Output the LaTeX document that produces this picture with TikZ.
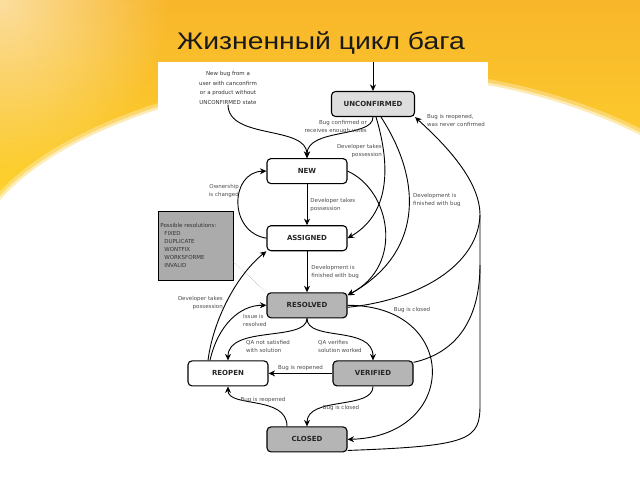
\documentclass[tikz,border=0pt]{standalone}
\usepackage{fontspec}
\setmainfont{DejaVu Sans}
\newfontfamily\titlefont{Liberation Sans}
\usetikzlibrary{positioning,arrows.meta,fadings}
\definecolor{slideorange}{HTML}{F8B62A}
\definecolor{slideyellow}{HTML}{FDD22E}
\definecolor{unconfgray}{HTML}{DEDEDE}
\definecolor{stategray}{HTML}{B5B5B5}
\definecolor{notegray}{HTML}{ABABAB}
\tikzfading[name=glow, inner color=transparent!0, outer color=transparent!100]

\begin{document}
\begin{tikzpicture}[
  x=1pt, y=-1pt,
  state/.style={draw, line width=1.1pt, rounded corners=4pt, minimum width=80pt, minimum height=25pt,
    inner sep=0pt, font=\fontsize{7}{8}\selectfont\bfseries, text=black!85},
  done/.style={state, fill=stategray},
  lbl/.style={font=\fontsize{5.5}{8}\selectfont, text=black!70, inner sep=0pt},
  arr/.style={-{Stealth[length=6.5pt,width=6pt]}, line width=0.9pt},
  link/.style={line width=0.9pt}
]
\useasboundingbox (0,0) rectangle (640,480);
\clip (0,0) rectangle (640,480);
\fill[white] (0,0) rectangle (640,480);
\shade[top color=slideorange, bottom color=slideyellow] (0,0) -- (640,0) -- (640,135)
  .. controls (580,105) and (500,80) .. (400,75) .. controls (250,70) and (70,120) .. (0,200) -- cycle;
\draw[white, line width=12pt, opacity=0.3] (640,135) .. controls (580,105) and (500,80) .. (400,75)
  .. controls (250,70) and (70,120) .. (0,200);
\draw[white, line width=5pt, opacity=0.5] (640,135) .. controls (580,105) and (500,80) .. (400,75)
  .. controls (250,70) and (70,120) .. (0,200);
\fill[white, path fading=glow, opacity=0.55] (0,0) circle (170);
\fill[white] (158,62) rectangle (488,480);

\node[font=\titlefont\fontsize{24}{28}\selectfont, text=black!90, anchor=base] (title) at (321,49)
  {\scalebox{1.18}[1]{Жизненный цикл бага}};

\node[state, fill=unconfgray, minimum width=83pt] (unconf) at (373,104) {UNCONFIRMED};
\node[state, below=41pt of unconf, xshift=-66pt] (new) {NEW};
\node[state, below=41pt of new] (assigned) {ASSIGNED};
\node[done, below=41pt of assigned] (resolved) {RESOLVED};
\node[state, below=42pt of resolved, xshift=-79pt] (reopen) {REOPEN};
\node[done, below=42pt of resolved, xshift=66pt] (verified) {VERIFIED};
\node[done, below=108pt of resolved] (closed) {CLOSED};
\node[draw, line width=0.8pt, fill=notegray, anchor=north west, minimum width=75pt, minimum height=69pt,
  text width=71pt, inner xsep=2pt, align=left, font=\fontsize{5.5}{8}\selectfont, text=black!80] (resol) at (158,211)
  {Possible resolutions:\\\hspace*{4pt}FIXED\\\hspace*{4pt}DUPLICATE\\\hspace*{4pt}WONTFIX\\\hspace*{4pt}WORKSFORME\\\hspace*{4pt}INVALID};
\node[lbl, align=center, font=\fontsize{5.5}{9.5}\selectfont, text=black!80] (newbug) at (228,88)
  {New bug from a\\user with canconfirm\\or a product without\\UNCONFIRMED state};

\coordinate (entry) at (373,62);
\coordinate (junc) at (480,215);
\coordinate (junc2) at (480,265);

\draw[arr] (entry) -- (unconf);
\draw[arr] (newbug.south) .. controls (228,140) and (307,125) .. (new.north);
\draw[arr] (unconf.south) .. controls (373,138) and (307,128) .. (new.north);
\node[lbl, anchor=east, align=right] (lconf) at (367,127) {Bug confirmed or\\receives enough votes};
\draw[arr] ([xshift=3pt]unconf.south) .. controls (392,170) and (388,215) .. (assigned.east);
\node[lbl, anchor=east, align=right] (ltake1) at (382,151) {Developer takes\\possession};
\draw[arr] ([xshift=8pt]unconf.south) .. controls (425,185) and (420,255) .. ([yshift=-3pt]resolved.north east);
\node[lbl, anchor=west, align=left] (lfin1) at (413,200) {Development is\\finished with bug};
\draw[arr] (new.east) .. controls (390,190) and (405,265) .. ([yshift=-3pt]resolved.north east);
\draw[arr] (new) -- node[lbl, right=3pt, align=left] (ltake2) {Developer takes\\possession} (assigned);
\draw[arr] (assigned.west) .. controls (228,232) and (230,172) .. (new.west);
\node[lbl, anchor=east, align=right] (lowner) at (239,191) {Ownership\\is changed};
\draw[arr] (assigned) -- node[lbl, right=4pt, align=left] (lfin2) {Development is\\finished with bug} (resolved);
\draw[densely dotted, black!50, thin] ([yshift=-16.5pt]resol.east) -- (resolved.north west);

\draw[arr] (resolved.south) .. controls (307,342) and (228,325) .. (reopen.north);
\node[lbl, anchor=west, align=left] (lqano) at (246,346) {QA not satisfied\\with solution};
\draw[arr] (resolved.south) .. controls (307,342) and (373,325) .. (verified.north);
\node[lbl, anchor=west, align=left] (lqayes) at (318,346) {QA verifies\\solution worked};
\draw[arr] (resolved.east) .. controls (460,305) and (460,436) .. (closed.east);
\node[lbl] (lclose1) at (412,310) {Bug is closed};
\draw[arr] ([xshift=-20pt]reopen.north) .. controls (214,315) and (240,272) .. (assigned.south west);
\node[lbl, anchor=east, align=right] (ltake3) at (223,303) {Developer takes\\possession};
\draw[arr] ([xshift=-18pt]reopen.north) .. controls (218,325) and (240,305) .. (resolved.west);
\node[lbl, anchor=west, align=left] (lissue) at (243,320) {Issue is\\resolved};
\draw[arr] (verified) -- node[lbl, above=2pt] (lreop1) {Bug is reopened} (reopen);
\draw[arr] (verified.south) .. controls (373,410) and (307,396) .. (closed.north);
\node[lbl] (lclose2) at (341,408) {Bug is closed};
\draw[arr] ([xshift=-20pt]closed.north) .. controls (287,395) and (228,408) .. (reopen.south);
\node[lbl] (lreop2) at (263,400) {Bug is reopened};

\draw[arr] ([yshift=2pt]closed.south east) .. controls (470,446) and (480,440) .. (480,405) -- (junc)
  .. controls (480,178) and (440,140) .. (unconf.south east);
\draw[link] ([yshift=-2pt]resolved.east) .. controls (420,300) and (478,265) .. (junc);
\draw[link] ([yshift=-2pt]verified.north east) .. controls (460,352) and (480,315) .. (junc2);
\node[lbl, anchor=west, align=left] (lreop0) at (427,120) {Bug is reopened,\\was never confirmed};
\end{tikzpicture}
\end{document}
